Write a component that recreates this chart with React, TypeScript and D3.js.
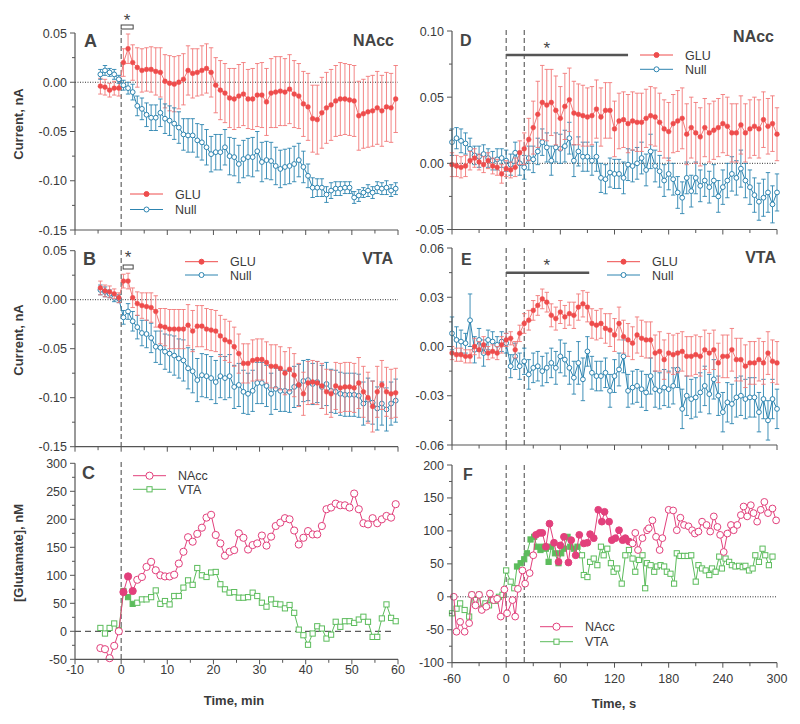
import React from 'react';
import * as d3 from 'd3';

const FONT = '"Liberation Sans", Arial, Helvetica, sans-serif';
const TXT = '#3a3a3a';
const AX = '#555';
const RED = '#ee4c4c';
const RED_L = '#f27878';
const BLUE = '#2d84b0';
const PINK = '#e2407c';
const GREEN = '#5cbc5c';

// ---------- time axes ----------
const TIME_MIN = [-4.5,-3.5,-2.5,-1.5,-0.5,0.5,1.5,2.5,3.5,4.5,5.5,6.5,7.5,8.5,9.5,10.5,11.5,12.5,13.5,14.5,15.5,16.5,17.5,18.5,19.5,20.5,21.5,22.5,23.5,24.5,25.5,26.5,27.5,28.5,29.5,30.5,31.5,32.5,33.5,34.5,35.5,36.5,37.5,38.5,39.5,40.5,41.5,42.5,43.5,44.5,45.5,46.5,47.5,48.5,49.5,50.5,51.5,52.5,53.5,54.5,55.5,56.5,57.5,58.5,59.5];
const TIME_S = [-60,-55,-50,-45,-40,-35,-30,-25,-20,-15,-10,-5,0,5,10,15,20,25,30,35,40,45,50,55,60,65,70,75,80,85,90,95,100,105,110,115,120,125,130,135,140,145,150,155,160,165,170,175,180,185,190,195,200,205,210,215,220,225,230,235,240,245,250,255,260,265,270,275,280,285,290,295,300];

// ---------- Panel A (NAcc, minutes) ----------
const A_GLU = [-0.004,-0.005,-0.008,-0.006,-0.006,
  0.020,0.034,0.020,0.015,0.012,0.013,0.013,0.011,0.010,0.001,
  -0.001,-0.002,0.000,0.003,0.012,0.009,0.010,0.012,0.014,0.010,
  -0.003,-0.008,-0.011,-0.016,-0.017,-0.014,-0.012,-0.017,-0.017,-0.013,
  -0.013,-0.020,-0.011,-0.010,-0.009,-0.010,-0.007,-0.012,-0.014,-0.022,
  -0.025,-0.037,-0.038,-0.031,-0.026,-0.023,-0.019,-0.017,-0.017,-0.018,
  -0.019,-0.034,-0.032,-0.030,-0.029,-0.026,-0.029,-0.025,-0.026,-0.017];
const A_GLU_SEM = [0.008,0.008,0.007,0.007,0.008,
  0.014,0.015,0.018,0.020,0.022,0.022,0.023,0.024,0.025,0.027,
  0.028,0.028,0.027,0.026,0.025,0.025,0.024,0.025,0.025,0.025,
  0.028,0.030,0.030,0.030,0.031,0.032,0.032,0.030,0.031,0.032,
  0.033,0.034,0.035,0.036,0.035,0.034,0.035,0.034,0.033,0.033,
  0.034,0.034,0.035,0.036,0.036,0.036,0.036,0.037,0.036,0.036,
  0.036,0.035,0.035,0.036,0.036,0.037,0.036,0.035,0.035,0.034];
const A_NULL = [0.008,0.012,0.010,0.008,0.003,
  -0.003,-0.006,-0.010,-0.024,-0.027,-0.033,-0.036,-0.036,-0.031,-0.037,
  -0.039,-0.042,-0.046,-0.053,-0.054,-0.054,-0.059,-0.061,-0.066,-0.073,
  -0.071,-0.071,-0.066,-0.075,-0.076,-0.083,-0.078,-0.076,-0.076,-0.070,
  -0.081,-0.079,-0.080,-0.085,-0.088,-0.086,-0.085,-0.083,-0.079,-0.086,
  -0.095,-0.107,-0.107,-0.107,-0.114,-0.110,-0.108,-0.108,-0.107,-0.107,
  -0.117,-0.115,-0.112,-0.110,-0.112,-0.107,-0.108,-0.107,-0.110,-0.108];
const A_NULL_SEM = [0.005,0.005,0.004,0.005,0.004,
  0.005,0.006,0.008,0.010,0.011,0.012,0.013,0.013,0.014,0.015,
  0.015,0.016,0.016,0.016,0.017,0.017,0.017,0.018,0.018,0.018,
  0.018,0.018,0.018,0.019,0.019,0.019,0.019,0.019,0.020,0.020,
  0.020,0.019,0.019,0.019,0.019,0.018,0.018,0.018,0.017,0.016,
  0.012,0.010,0.009,0.009,0.008,0.008,0.007,0.007,0.006,0.006,
  0.006,0.006,0.005,0.006,0.006,0.006,0.006,0.007,0.006,0.006];

// ---------- Panel B (VTA, minutes) ----------
const B_GLU = [0.012,0.009,0.008,0.006,0.002,
  0.019,0.019,0.002,-0.004,-0.006,-0.007,-0.008,-0.012,-0.027,-0.028,
  -0.030,-0.030,-0.030,-0.030,-0.026,-0.032,-0.027,-0.027,-0.030,-0.031,
  -0.032,-0.037,-0.041,-0.043,-0.048,-0.055,-0.065,-0.065,-0.062,-0.061,
  -0.061,-0.064,-0.068,-0.068,-0.070,-0.075,-0.071,-0.077,-0.087,-0.096,
  -0.085,-0.084,-0.085,-0.088,-0.094,-0.096,-0.088,-0.090,-0.089,-0.089,
  -0.090,-0.085,-0.094,-0.100,-0.109,-0.094,-0.087,-0.094,-0.096,-0.095];
const B_GLU_SEM = [0.007,0.006,0.006,0.005,0.005,
  0.007,0.008,0.010,0.012,0.013,0.014,0.015,0.016,0.018,0.019,
  0.020,0.020,0.020,0.020,0.021,0.021,0.021,0.021,0.021,0.021,
  0.021,0.021,0.021,0.021,0.020,0.020,0.020,0.020,0.021,0.021,
  0.021,0.021,0.022,0.022,0.022,0.022,0.022,0.022,0.022,0.022,
  0.022,0.022,0.022,0.023,0.023,0.024,0.024,0.025,0.025,0.025,
  0.025,0.026,0.026,0.026,0.026,0.026,0.025,0.025,0.025,0.025];
const B_NULL = [0.010,0.008,0.006,0.002,0.001,
  -0.018,-0.012,-0.022,-0.028,-0.034,-0.035,-0.039,-0.048,-0.049,-0.053,
  -0.055,-0.057,-0.060,-0.062,-0.070,-0.073,-0.082,-0.077,-0.078,-0.080,
  -0.084,-0.078,-0.080,-0.078,-0.089,-0.087,-0.094,-0.096,-0.093,-0.085,
  -0.085,-0.088,-0.096,-0.091,-0.093,-0.093,-0.094,-0.089,-0.087,-0.083,
  -0.082,-0.086,-0.084,-0.089,-0.086,-0.093,-0.094,-0.096,-0.097,-0.097,
  -0.097,-0.098,-0.106,-0.102,-0.105,-0.111,-0.106,-0.112,-0.106,-0.103];
const B_NULL_SEM = [0.005,0.005,0.004,0.004,0.004,
  0.007,0.008,0.010,0.012,0.013,0.014,0.015,0.016,0.017,0.018,
  0.019,0.020,0.020,0.021,0.021,0.022,0.022,0.022,0.022,0.022,
  0.022,0.022,0.022,0.022,0.022,0.022,0.022,0.021,0.021,0.021,
  0.021,0.021,0.021,0.021,0.021,0.021,0.021,0.021,0.021,0.021,
  0.021,0.021,0.021,0.022,0.022,0.022,0.022,0.022,0.022,0.022,
  0.022,0.022,0.022,0.022,0.022,0.022,0.022,0.022,0.022,0.022];

// ---------- Panel C ([Glutamate], minutes) ----------
const C_NACC = [-30,-32,-48,-26,0,
  70,98,72,92,97,115,124,109,100,98,
  98,101,121,142,168,160,174,185,203,208,
  172,157,135,142,145,175,167,146,154,157,
  171,153,169,188,194,202,200,180,155,167,
  179,173,173,188,218,221,228,225,225,221,
  246,218,193,191,202,193,200,206,203,227];
const C_VTA = [6,-4,6,14,2,
  72,61,49,51,57,57,61,73,49,54,
  48,63,63,78,91,83,113,100,97,105,
  106,84,75,69,70,60,60,61,69,63,
  51,44,57,49,48,41,47,33,3,-7,
  -24,-4,9,5,-13,-6,17,8,18,18,
  15,21,26,17,-10,-10,23,48,24,18];
const C_FILLED_TIMES = [0.5, 1.5, 2.5];

// ---------- Panel D (NAcc, seconds) ----------
const D_GLU = [-0.001,-0.002,-0.003,-0.002,0.002,0.004,0.001,-0.001,0.002,-0.002,-0.003,-0.008,-0.004,
  -0.005,-0.003,0.008,0.011,0.018,0.027,0.037,0.046,0.044,0.046,
  0.040,0.034,0.043,0.048,0.038,0.037,0.036,0.035,0.036,0.041,
  0.035,0.040,0.040,0.026,0.032,0.033,0.030,0.032,0.031,0.031,
  0.034,0.036,0.035,0.031,0.026,0.024,0.030,0.032,0.034,0.022,
  0.027,0.023,0.020,0.027,0.023,0.025,0.027,0.030,0.028,0.023,
  0.023,0.029,0.023,0.026,0.028,0.026,0.033,0.028,0.030,0.022];
const D_GLU_SEM = [0.009,0.008,0.008,0.008,0.007,0.007,0.006,0.006,0.006,0.006,0.006,0.007,0.006,
  0.006,0.007,0.009,0.012,0.016,0.020,0.025,0.028,0.027,0.025,
  0.026,0.024,0.025,0.024,0.024,0.023,0.023,0.022,0.022,0.022,
  0.022,0.021,0.021,0.021,0.021,0.021,0.022,0.022,0.022,0.022,
  0.022,0.022,0.022,0.022,0.022,0.022,0.022,0.023,0.023,0.023,
  0.023,0.023,0.022,0.022,0.022,0.022,0.022,0.022,0.022,0.022,
  0.022,0.022,0.022,0.022,0.022,0.022,0.021,0.021,0.021,0.020];
const D_NULL = [0.016,0.019,0.017,0.015,0.011,0.006,0.005,0.007,0.004,0.002,0.003,0.004,0.002,
  -0.001,0.008,0.000,-0.003,0.004,0.003,0.009,0.016,0.012,0.002,
  0.012,0.011,0.013,0.019,0.002,0.009,0.005,0.005,0.002,0.005,
  -0.011,-0.012,-0.007,-0.008,-0.008,-0.011,-0.001,-0.002,0.000,0.004,
  -0.005,0.009,-0.002,-0.006,-0.013,-0.008,-0.012,-0.022,-0.026,-0.011,
  -0.021,-0.011,-0.017,-0.013,-0.018,-0.013,-0.025,-0.018,-0.013,-0.008,
  -0.011,-0.004,-0.013,-0.018,-0.024,-0.029,-0.026,-0.022,-0.031,-0.022];
const D_NULL_SEM = [0.010,0.008,0.009,0.008,0.008,0.007,0.008,0.007,0.007,0.007,0.008,0.007,0.008,
  0.008,0.008,0.009,0.009,0.009,0.010,0.010,0.010,0.011,0.011,
  0.011,0.011,0.012,0.012,0.012,0.011,0.011,0.011,0.011,0.011,
  0.011,0.011,0.011,0.011,0.011,0.012,0.012,0.012,0.012,0.012,
  0.012,0.013,0.012,0.012,0.012,0.012,0.012,0.012,0.012,0.012,
  0.012,0.012,0.012,0.012,0.012,0.012,0.012,0.013,0.013,0.013,
  0.013,0.014,0.013,0.013,0.013,0.014,0.014,0.015,0.014,0.014];

// ---------- Panel E (VTA, seconds) ----------
const E_GLU = [-0.004,-0.005,-0.005,-0.006,-0.006,0.000,-0.002,0.001,-0.004,-0.003,-0.004,0.001,0.004,
  0.005,-0.002,0.008,0.014,0.016,0.022,0.025,0.029,0.027,0.019,
  0.017,0.021,0.018,0.020,0.019,0.024,0.026,0.024,0.014,0.013,
  0.014,0.011,0.010,0.007,0.014,0.006,0.004,0.002,0.007,0.005,
  0.004,0.004,-0.004,-0.003,-0.008,-0.004,-0.005,-0.004,-0.003,-0.006,
  -0.006,-0.005,-0.006,-0.002,-0.004,-0.002,-0.010,-0.006,-0.006,-0.002,
  -0.008,-0.008,-0.012,-0.010,-0.010,-0.008,-0.010,-0.004,-0.009,-0.010];
const E_GLU_SEM = [0.004,0.004,0.004,0.004,0.004,0.005,0.005,0.005,0.004,0.004,0.004,0.005,0.004,
  0.004,0.005,0.005,0.006,0.006,0.006,0.006,0.006,0.006,0.007,
  0.007,0.007,0.007,0.007,0.008,0.008,0.008,0.009,0.009,0.009,
  0.009,0.009,0.010,0.010,0.010,0.010,0.010,0.010,0.011,0.011,
  0.011,0.011,0.011,0.012,0.012,0.012,0.012,0.012,0.012,0.012,
  0.012,0.012,0.012,0.012,0.012,0.012,0.012,0.013,0.013,0.013,
  0.013,0.013,0.013,0.013,0.013,0.013,0.013,0.013,0.013,0.013];
const E_NULL = [0.008,0.004,0.003,0.002,0.016,-0.002,0.004,-0.004,0.004,0.003,0.001,0.003,0.002,
  -0.012,-0.006,-0.012,-0.009,-0.017,-0.013,-0.012,-0.015,-0.013,-0.010,
  -0.013,-0.006,-0.008,-0.013,-0.019,-0.010,-0.020,-0.003,-0.016,-0.018,
  -0.018,-0.016,-0.027,-0.018,-0.014,-0.006,-0.027,-0.025,-0.024,-0.026,
  -0.028,-0.018,-0.026,-0.027,-0.025,-0.026,-0.024,-0.014,-0.038,-0.030,
  -0.032,-0.031,-0.028,-0.024,-0.029,-0.020,-0.030,-0.040,-0.034,-0.035,
  -0.031,-0.030,-0.032,-0.031,-0.031,-0.040,-0.032,-0.045,-0.032,-0.038];
const E_NULL_SEM = [0.010,0.008,0.007,0.006,0.016,0.008,0.007,0.008,0.006,0.006,0.005,0.006,0.006,
  0.007,0.008,0.008,0.008,0.009,0.009,0.009,0.009,0.009,0.009,
  0.010,0.010,0.010,0.010,0.010,0.013,0.013,0.009,0.010,0.009,
  0.009,0.009,0.010,0.010,0.010,0.010,0.010,0.010,0.010,0.011,
  0.011,0.011,0.011,0.011,0.011,0.011,0.011,0.011,0.012,0.012,
  0.012,0.012,0.012,0.012,0.012,0.012,0.012,0.012,0.012,0.012,
  0.012,0.012,0.012,0.012,0.012,0.012,0.012,0.012,0.012,0.012];

// ---------- Panel F ([Glutamate], seconds) ----------
const F_NACC_T = [-58,-55,-51,-46,-41,-38,-34,-30,-27,-22,-18,-14,-10,-6,-2,1,7,10,13,18,21,26,30,33,37,40,44,48,53,58,60,64,69,72,77,81,86,90,93,97,102,106,109,114,117,121,125,129,132,136,140,143,146,151,156,158,162,166,170,173,180,185,189,193,197,202,206,209,213,217,222,226,230,234,237,241,245,249,252,256,260,263,267,271,274,278,282,286,290,295,299];
const F_NACC = [0,-53,-38,-53,-40,3,-13,3,-20,-15,5,-5,-3,-30,11,-25,-5,-30,12,40,20,36,63,94,97,97,76,111,82,53,78,91,52,86,63,94,81,82,95,89,132,114,129,114,86,89,101,86,89,84,81,97,71,89,101,104,116,91,71,89,132,131,101,120,109,107,101,96,99,114,109,99,122,106,94,68,96,109,101,109,124,137,122,139,127,114,132,144,127,134,116];
const F_VTA_T = [-60,-55,-51,-46,-41,-38,-34,-30,-27,-23,-19,-16,-12,-8,-4,0,5,9,12,16,20,23,27,31,34,38,41,44,47,50,54,58,61,64,68,71,75,79,84,86,90,93,97,101,105,108,112,116,119,123,128,132,136,140,143,147,151,154,156,160,164,167,171,175,178,182,186,189,193,197,201,205,210,213,217,221,225,228,232,236,239,243,247,250,254,258,262,265,269,273,276,280,284,287,291,295];
const F_VTA = [-25,-18,-10,-20,-30,3,-5,3,-18,-10,-13,-5,-6,0,3,40,23,13,46,51,57,66,87,91,76,71,76,73,53,76,66,51,66,73,91,76,73,76,63,33,30,53,58,48,76,63,73,51,38,43,20,63,71,58,38,56,63,13,51,48,38,46,48,46,38,35,20,66,62,62,62,63,23,48,43,40,33,43,38,61,43,58,53,48,46,47,45,47,40,43,63,53,73,63,48,61];
const F_NACC_FILLED = [33, 136];
const F_VTA_FILLED = [12, 80];

// ---------- ticks ----------
const LEFT_XTICKS = [-10, 0, 10, 20, 30, 40, 50, 60];
const LEFT_XMINOR = [-5, 5, 15, 25, 35, 45, 55];
const RIGHT_XTICKS = [-60, 0, 60, 120, 180, 240, 300];
const RIGHT_XMINOR = [-30, 30, 90, 150, 210, 270];
const AB_YTICKS = [0.05, 0, -0.05, -0.1, -0.15];
const AB_YMINOR = [0.025, -0.025, -0.075, -0.125];
const C_YTICKS = [300, 250, 200, 150, 100, 50, 0, -50];
const C_YMINOR = [275, 225, 175, 125, 75, 25, -25];
const D_YTICKS = [0.1, 0.05, 0, -0.05];
const D_YMINOR = [0.075, 0.025, -0.025];
const E_YTICKS = [0.06, 0.03, 0, -0.03, -0.06];
const E_YMINOR = [0.045, 0.015, -0.015, -0.045];
const F_YTICKS = [200, 150, 100, 50, 0, -50, -100];
const F_YMINOR = [175, 125, 75, 25, -25, -75];

type Sc = d3.ScaleLinear<number, number>;

const xL = d3.scaleLinear().domain([-10, 60]).range([75, 398]);
const xR = d3.scaleLinear().domain([-60, 300]).range([452, 777]);
const yA = d3.scaleLinear().domain([-0.15, 0.05]).range([230, 33]);
const yB = d3.scaleLinear().domain([-0.15, 0.05]).range([446.7, 250.7]);
const yC = d3.scaleLinear().domain([-50, 300]).range([659.3, 463.3]);
const yD = d3.scaleLinear().domain([-0.05, 0.1]).range([229.5, 31]);
const yE = d3.scaleLinear().domain([-0.06, 0.06]).range([445, 248]);
const yF = d3.scaleLinear().domain([-100, 200]).range([662.7, 465]);

const f2 = (v: number) => (Math.abs(v) < 1e-9 ? '0.00' : v.toFixed(2));
const f0 = (v: number) => String(v);

function Axes({ x, y, xMaj, xMin, yMaj, yMin, fmt, xLabY }: {
  x: Sc; y: Sc; xMaj: number[]; xMin: number[]; yMaj: number[]; yMin: number[];
  fmt: (v: number) => string; xLabY?: number;
}) {
  const [x0, x1] = x.range();
  const [yb, yt] = y.range();
  return (
    <g fontFamily={FONT} fontSize={12.5} fill={TXT}>
      <line x1={x0} x2={x0} y1={yt} y2={yb} stroke={AX} strokeWidth={1.2} />
      <line x1={x0} x2={x1} y1={yb} y2={yb} stroke={AX} strokeWidth={1.2} />
      {yMaj.map((v) => (
        <g key={'ym' + v}>
          <line x1={x0 - 5} x2={x0} y1={y(v)} y2={y(v)} stroke={AX} />
          <text x={x0 - 8} y={y(v) + 4.5} textAnchor="end">{fmt(v)}</text>
        </g>
      ))}
      {yMin.map((v) => (
        <line key={'yn' + v} x1={x0 - 3} x2={x0} y1={y(v)} y2={y(v)} stroke={AX} />
      ))}
      {xMaj.map((v) => (
        <g key={'xm' + v}>
          <line x1={x(v)} x2={x(v)} y1={yb} y2={yb + 5} stroke={AX} />
          {xLabY !== undefined && (
            <text x={x(v)} y={xLabY} textAnchor="middle">{v}</text>
          )}
        </g>
      ))}
      {xMin.map((v) => (
        <line key={'xn' + v} x1={x(v)} x2={x(v)} y1={yb} y2={yb + 3.5} stroke={AX} />
      ))}
    </g>
  );
}

function ErrSeries({ x, y, t, v, s, color, barColor, lineColor, filled, r = 2.4 }: {
  x: Sc; y: Sc; t: number[]; v: number[]; s: number[]; color: string; barColor: string;
  lineColor: string; filled: boolean; r?: number;
}) {
  const line = d3.line<number>().x((_, i) => x(t[i])).y((d) => y(d));
  return (
    <g>
      {v.map((d, i) => {
        const cx = x(t[i]);
        const y1 = y(d + s[i]);
        const y2 = y(d - s[i]);
        return (
          <g key={i} stroke={barColor} strokeWidth={0.9}>
            <line x1={cx} x2={cx} y1={y1} y2={y2} />
            <line x1={cx - 2.2} x2={cx + 2.2} y1={y1} y2={y1} />
            <line x1={cx - 2.2} x2={cx + 2.2} y1={y2} y2={y2} />
          </g>
        );
      })}
      <path d={line(v) || ''} fill="none" stroke={lineColor} strokeWidth={1} />
      {v.map((d, i) => (
        <circle key={'c' + i} cx={x(t[i])} cy={y(d)} r={r}
          fill={filled ? color : '#fff'} stroke={color} strokeWidth={filled ? 0.5 : 1} />
      ))}
    </g>
  );
}

function GluSeries({ x, y, t, v, color, shape, isFilled, size }: {
  x: Sc; y: Sc; t: number[]; v: number[]; color: string; shape: 'circle' | 'square';
  isFilled: (tt: number) => boolean; size: number;
}) {
  const line = d3.line<number>().x((_, i) => x(t[i])).y((d) => y(d));
  return (
    <g>
      <path d={line(v) || ''} fill="none" stroke={color} strokeWidth={1} />
      {v.map((d, i) => {
        const f = isFilled(t[i]);
        return shape === 'circle' ? (
          <circle key={i} cx={x(t[i])} cy={y(d)} r={size} fill={f ? color : '#fff'}
            stroke={color} strokeWidth={1} />
        ) : (
          <rect key={i} x={x(t[i]) - size} y={y(d) - size} width={size * 2} height={size * 2}
            fill={f ? color : '#fff'} stroke={color} strokeWidth={1} />
        );
      })}
    </g>
  );
}

function LegendItem({ x, y, color, label, kind, filled, size }: {
  x: number; y: number; color: string; label: string; kind: 'circle' | 'square';
  filled: boolean; size: number;
}) {
  return (
    <g>
      <line x1={x} x2={x + 33} y1={y} y2={y} stroke={color} strokeWidth={1} />
      {kind === 'circle' ? (
        <circle cx={x + 16.5} cy={y} r={size} fill={filled ? color : '#fff'} stroke={color} />
      ) : (
        <rect x={x + 16.5 - size} y={y - size} width={size * 2} height={size * 2}
          fill={filled ? color : '#fff'} stroke={color} />
      )}
      <text x={x + 45} y={y + 4.5} fontFamily={FONT} fontSize={12.5} fill={TXT}>{label}</text>
    </g>
  );
}

function VDash({ x, y1, y2 }: { x: number; y1: number; y2: number }) {
  return <line x1={x} x2={x} y1={y1} y2={y2} stroke="#444" strokeWidth={1} strokeDasharray="5,3" />;
}

function ZeroDots({ x1, x2, y }: { x1: number; x2: number; y: number }) {
  return <line x1={x1} x2={x2} y1={y} y2={y} stroke="#333" strokeWidth={1} strokeDasharray="1,1.5" />;
}

function Label({ x, y, text, size, anchor = 'start' }: {
  x: number; y: number; text: string; size: number; anchor?: string;
}) {
  return (
    <text x={x} y={y} fontFamily={FONT} fontSize={size} fontWeight="bold" fill="#444"
      textAnchor={anchor as any} letterSpacing={size > 15 ? 0 : 0.5}>{text}</text>
  );
}

function Star({ x, y }: { x: number; y: number }) {
  return <text x={x} y={y} textAnchor="middle" fontFamily={FONT} fontSize={17} fill="#444">*</text>;
}

export default function App() {
  const glu = (x: Sc, y: Sc, v: number[], s: number[], t: number[]) => (
    <ErrSeries x={x} y={y} t={t} v={v} s={s} color={RED} barColor={RED_L} lineColor={RED_L} filled />
  );
  const nul = (x: Sc, y: Sc, v: number[], s: number[], t: number[]) => (
    <ErrSeries x={x} y={y} t={t} v={v} s={s} color={BLUE} barColor={BLUE} lineColor={BLUE} filled={false} />
  );
  const inRange = (r: number[]) => (tt: number) => tt >= r[0] && tt <= r[1];
  const cFilled = (tt: number) => C_FILLED_TIMES.includes(tt);

  return (
    <svg width={800} height={724} style={{ position: 'absolute', left: 0, top: 0, background: '#fff' }}
      fontFamily={FONT}>
      <rect x={0} y={0} width={800} height={724} fill="#fff" />

      {/* ===== Panel A ===== */}
      <ZeroDots x1={75} x2={398} y={yA(0)} />
      <VDash x={xL(0)} y1={30} y2={230} />
      {glu(xL, yA, A_GLU, A_GLU_SEM, TIME_MIN)}
      {nul(xL, yA, A_NULL, A_NULL_SEM, TIME_MIN)}
      <Axes x={xL} y={yA} xMaj={LEFT_XTICKS} xMin={LEFT_XMINOR} yMaj={AB_YTICKS} yMin={AB_YMINOR} fmt={f2} />
      <rect x={xL(0)} y={25} width={12} height={4} fill="#fff" stroke="#444" strokeWidth={1} />
      <Star x={xL(0) + 6} y={26} />
      <Label x={84} y={47} text="A" size={18} />
      <Label x={394} y={46} text="NAcc" size={16} anchor="end" />
      <LegendItem x={130} y={194} color={RED} label="GLU" kind="circle" filled size={2.5} />
      <LegendItem x={130} y={209.5} color={BLUE} label="Null" kind="circle" filled={false} size={2.5} />

      {/* ===== Panel B ===== */}
      <ZeroDots x1={75} x2={398} y={yB(0)} />
      <VDash x={xL(0)} y1={250} y2={446.7} />
      {nul(xL, yB, B_NULL, B_NULL_SEM, TIME_MIN)}
      {glu(xL, yB, B_GLU, B_GLU_SEM, TIME_MIN)}
      <Axes x={xL} y={yB} xMaj={LEFT_XTICKS} xMin={LEFT_XMINOR} yMaj={AB_YTICKS} yMin={AB_YMINOR} fmt={f2} />
      <rect x={xL(0) + 2} y={265} width={10} height={4} fill="#fff" stroke="#444" strokeWidth={1} />
      <Star x={xL(0) + 7} y={263} />
      <Label x={83} y={265} text="B" size={18} />
      <Label x={393} y={264} text="VTA" size={16} anchor="end" />
      <LegendItem x={185} y={261.7} color={RED} label="GLU" kind="circle" filled size={2.5} />
      <LegendItem x={185} y={275} color={BLUE} label="Null" kind="circle" filled={false} size={2.5} />

      {/* ===== Panel C ===== */}
      <line x1={75} x2={395} y1={yC(0)} y2={yC(0)} stroke="#333" strokeWidth={1} strokeDasharray="6,4" />
      <VDash x={xL(0)} y1={462} y2={659.3} />
      <GluSeries x={xL} y={yC} t={TIME_MIN} v={C_VTA} color={GREEN} shape="square" isFilled={cFilled} size={2.6} />
      <GluSeries x={xL} y={yC} t={TIME_MIN} v={C_NACC} color={PINK} shape="circle" isFilled={cFilled} size={3.6} />
      <Axes x={xL} y={yC} xMaj={LEFT_XTICKS} xMin={LEFT_XMINOR} yMaj={C_YTICKS} yMin={C_YMINOR} fmt={f0} xLabY={674} />
      <Label x={82} y={479} text="C" size={18} />
      <LegendItem x={133} y={475.7} color={PINK} label="NAcc" kind="circle" filled={false} size={3.6} />
      <LegendItem x={133} y={489.3} color={GREEN} label="VTA" kind="square" filled={false} size={2.6} />

      {/* ===== Panel D ===== */}
      <ZeroDots x1={452} x2={777} y={yD(0)} />
      <VDash x={xR(0)} y1={30} y2={229.5} />
      <VDash x={xR(20)} y1={30} y2={229.5} />
      {nul(xR, yD, D_NULL, D_NULL_SEM, TIME_S)}
      {glu(xR, yD, D_GLU, D_GLU_SEM, TIME_S)}
      <Axes x={xR} y={yD} xMaj={RIGHT_XTICKS} xMin={RIGHT_XMINOR} yMaj={D_YTICKS} yMin={D_YMINOR} fmt={f2} />
      <line x1={xR(0)} x2={xR(135)} y1={55} y2={55} stroke="#555" strokeWidth={2.5} />
      <Star x={xR(45)} y={53.5} />
      <Label x={460} y={46} text="D" size={16} />
      <Label x={774} y={42} text="NAcc" size={16} anchor="end" />
      <LegendItem x={640} y={55} color={RED} label="GLU" kind="circle" filled size={2.5} />
      <LegendItem x={640} y={69.3} color={BLUE} label="Null" kind="circle" filled={false} size={2.5} />

      {/* ===== Panel E ===== */}
      <VDash x={xR(0)} y1={248} y2={445} />
      <VDash x={xR(20)} y1={248} y2={445} />
      {nul(xR, yE, E_NULL, E_NULL_SEM, TIME_S)}
      {glu(xR, yE, E_GLU, E_GLU_SEM, TIME_S)}
      <Axes x={xR} y={yE} xMaj={RIGHT_XTICKS} xMin={RIGHT_XMINOR} yMaj={E_YTICKS} yMin={E_YMINOR} fmt={f2} />
      <line x1={xR(0)} x2={xR(92)} y1={272.7} y2={272.7} stroke="#555" strokeWidth={2.5} />
      <Star x={xR(45)} y={271} />
      <Label x={461} y={265} text="E" size={16} />
      <Label x={776} y={263} text="VTA" size={16} anchor="end" />
      <LegendItem x={607} y={261.7} color={RED} label="GLU" kind="circle" filled size={2.5} />
      <LegendItem x={607} y={275} color={BLUE} label="Null" kind="circle" filled={false} size={2.5} />

      {/* ===== Panel F ===== */}
      <ZeroDots x1={455} x2={777} y={yF(0)} />
      <VDash x={xR(0)} y1={465} y2={662.7} />
      <VDash x={xR(20)} y1={465} y2={662.7} />
      <GluSeries x={xR} y={yF} t={F_VTA_T} v={F_VTA} color={GREEN} shape="square" isFilled={inRange(F_VTA_FILLED)} size={2.6} />
      <GluSeries x={xR} y={yF} t={F_NACC_T} v={F_NACC} color={PINK} shape="circle" isFilled={inRange(F_NACC_FILLED)} size={3.4} />
      <Axes x={xR} y={yF} xMaj={RIGHT_XTICKS} xMin={RIGHT_XMINOR} yMaj={F_YTICKS} yMin={F_YMINOR} fmt={f0} xLabY={683} />
      <Label x={463} y={480} text="F" size={16} />
      <LegendItem x={540} y={626.7} color={PINK} label="NAcc" kind="circle" filled={false} size={3.6} />
      <LegendItem x={540} y={641.7} color={GREEN} label="VTA" kind="square" filled={false} size={2.6} />

      {/* ===== Axis titles ===== */}
      <g fontFamily={FONT} fontSize={13} fontWeight="bold" fill="#3a3a3a" style={{ whiteSpace: 'pre' }}>
        <text transform="translate(23,124) rotate(-90)" textAnchor="middle">{'Current,  nA'}</text>
        <text transform="translate(23,340) rotate(-90)" textAnchor="middle">{'Current,  nA'}</text>
        <text transform="translate(23,553) rotate(-90)" textAnchor="middle">{'[Glutamate],  nM'}</text>
        <text x={234} y={705} textAnchor="middle">{'Time,  min'}</text>
        <text x={614} y={708} textAnchor="middle">{'Time,  s'}</text>
      </g>
    </svg>
  );
}
